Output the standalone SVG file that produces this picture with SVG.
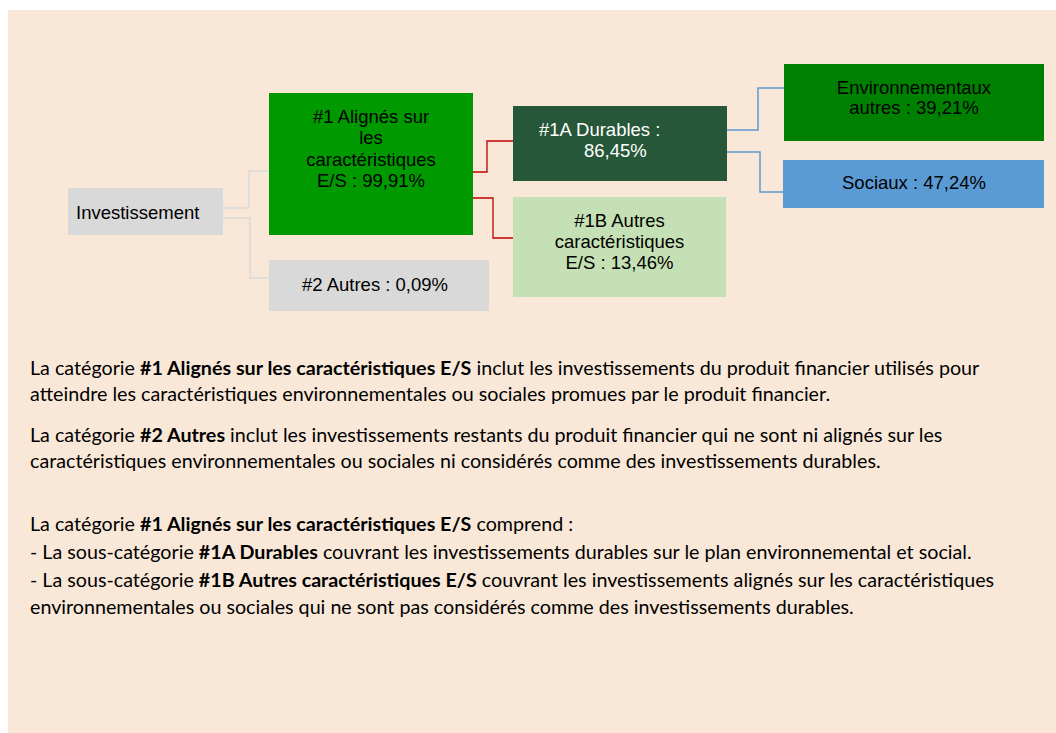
<svg xmlns="http://www.w3.org/2000/svg" width="1056" height="733" viewBox="0 0 1056 733">
<style>
.bt{font-family:"Liberation Sans",Arial,sans-serif;font-size:18.5px;fill:#000}
.bc{text-anchor:middle}
.wt{fill:#ffffff}
.gc{fill:none;stroke:#d9d9d9;stroke-width:1.5}
.rc{fill:none;stroke:#c00000;stroke-width:1.3}
.lc{fill:none;stroke:#5b9bd5;stroke-width:1.5}
.p{font-family:Lato,"Carlito",Calibri,sans-serif;font-size:19.7px;fill:#000}
.b{font-weight:bold}
</style>
<rect x="8" y="10" width="1048" height="723" fill="#f9e8d8"/>
<g id="connectors">
<polyline class="gc" points="223,208 249,208 249,171 269,171"/>
<polyline class="gc" points="223,218 250,218 250,278 269,278"/>
<polyline class="rc" points="473,172 487,172 487,141 513,141"/>
<polyline class="rc" points="473,198 493,198 493,238 513,238"/>
<polyline class="lc" points="727,130 758,130 758,88 789,88"/>
<polyline class="lc" points="727,152 760,152 760,192 783,192"/>
</g>
<g id="n-invest">
<rect x="68" y="188" width="155" height="47" fill="#d9d9d9"/>
<text class="bt" x="76" y="219">Investissement</text>
</g>
<g id="n-1">
<rect x="269" y="93" width="204" height="142" fill="#009900"/>
<text class="bt bc" x="371" y="123">#1 Alignés sur</text>
<text class="bt bc" x="371" y="144">les</text>
<text class="bt bc" x="371" y="166">caractéristiques</text>
<text class="bt bc" x="371" y="187">E/S : 99,91%</text>
</g>
<g id="n-2">
<rect x="269" y="260" width="220" height="51" fill="#d9d9d9"/>
<text class="bt bc" x="375" y="291">#2 Autres : 0,09%</text>
</g>
<g id="n-1a">
<rect x="513" y="106" width="214" height="75" fill="#265738"/>
<text class="bt wt" x="539" y="136">#1A Durables :</text>
<text class="bt wt" x="584" y="157">86,45%</text>
</g>
<g id="n-1b">
<rect x="513" y="197" width="213" height="100" fill="#c5e0b4"/>
<text class="bt bc" x="619.5" y="227">#1B Autres</text>
<text class="bt bc" x="619.5" y="248">caractéristiques</text>
<text class="bt bc" x="619.5" y="269">E/S : 13,46%</text>
</g>
<g id="n-env">
<rect x="784" y="64" width="260" height="77" fill="#008000"/>
<text class="bt bc" x="914" y="94">Environnementaux</text>
<text class="bt bc" x="914" y="114">autres : 39,21%</text>
</g>
<g id="n-soc">
<rect x="783" y="160" width="261" height="48" fill="#5b9bd5"/>
<text class="bt bc" x="914" y="189">Sociaux : 47,24%</text>
</g>
<g id="body-text">
<text class="p" x="30" y="375">La catégorie <tspan class="b">#1 Alignés sur les caractéristiques E/S</tspan> inclut les investissements du produit financier utilisés pour</text>
<text class="p" x="30" y="401">atteindre les caractéristiques environnementales ou sociales promues par le produit financier.</text>
<text class="p" x="30" y="442">La catégorie <tspan class="b">#2 Autres</tspan> inclut les investissements restants du produit financier qui ne sont ni alignés sur les</text>
<text class="p" x="30" y="468">caractéristiques environnementales ou sociales ni considérés comme des investissements durables.</text>
<text class="p" x="30" y="531">La catégorie <tspan class="b">#1 Alignés sur les caractéristiques E/S</tspan> comprend :</text>
<text class="p" x="30" y="559">- La sous-catégorie <tspan class="b">#1A Durables</tspan> couvrant les investissements durables sur le plan environnemental et social.</text>
<text class="p" x="30" y="587">- La sous-catégorie <tspan class="b">#1B Autres caractéristiques E/S</tspan> couvrant les investissements alignés sur les caractéristiques</text>
<text class="p" x="30" y="614">environnementales ou sociales qui ne sont pas considérés comme des investissements durables.</text>
</g>
</svg>
